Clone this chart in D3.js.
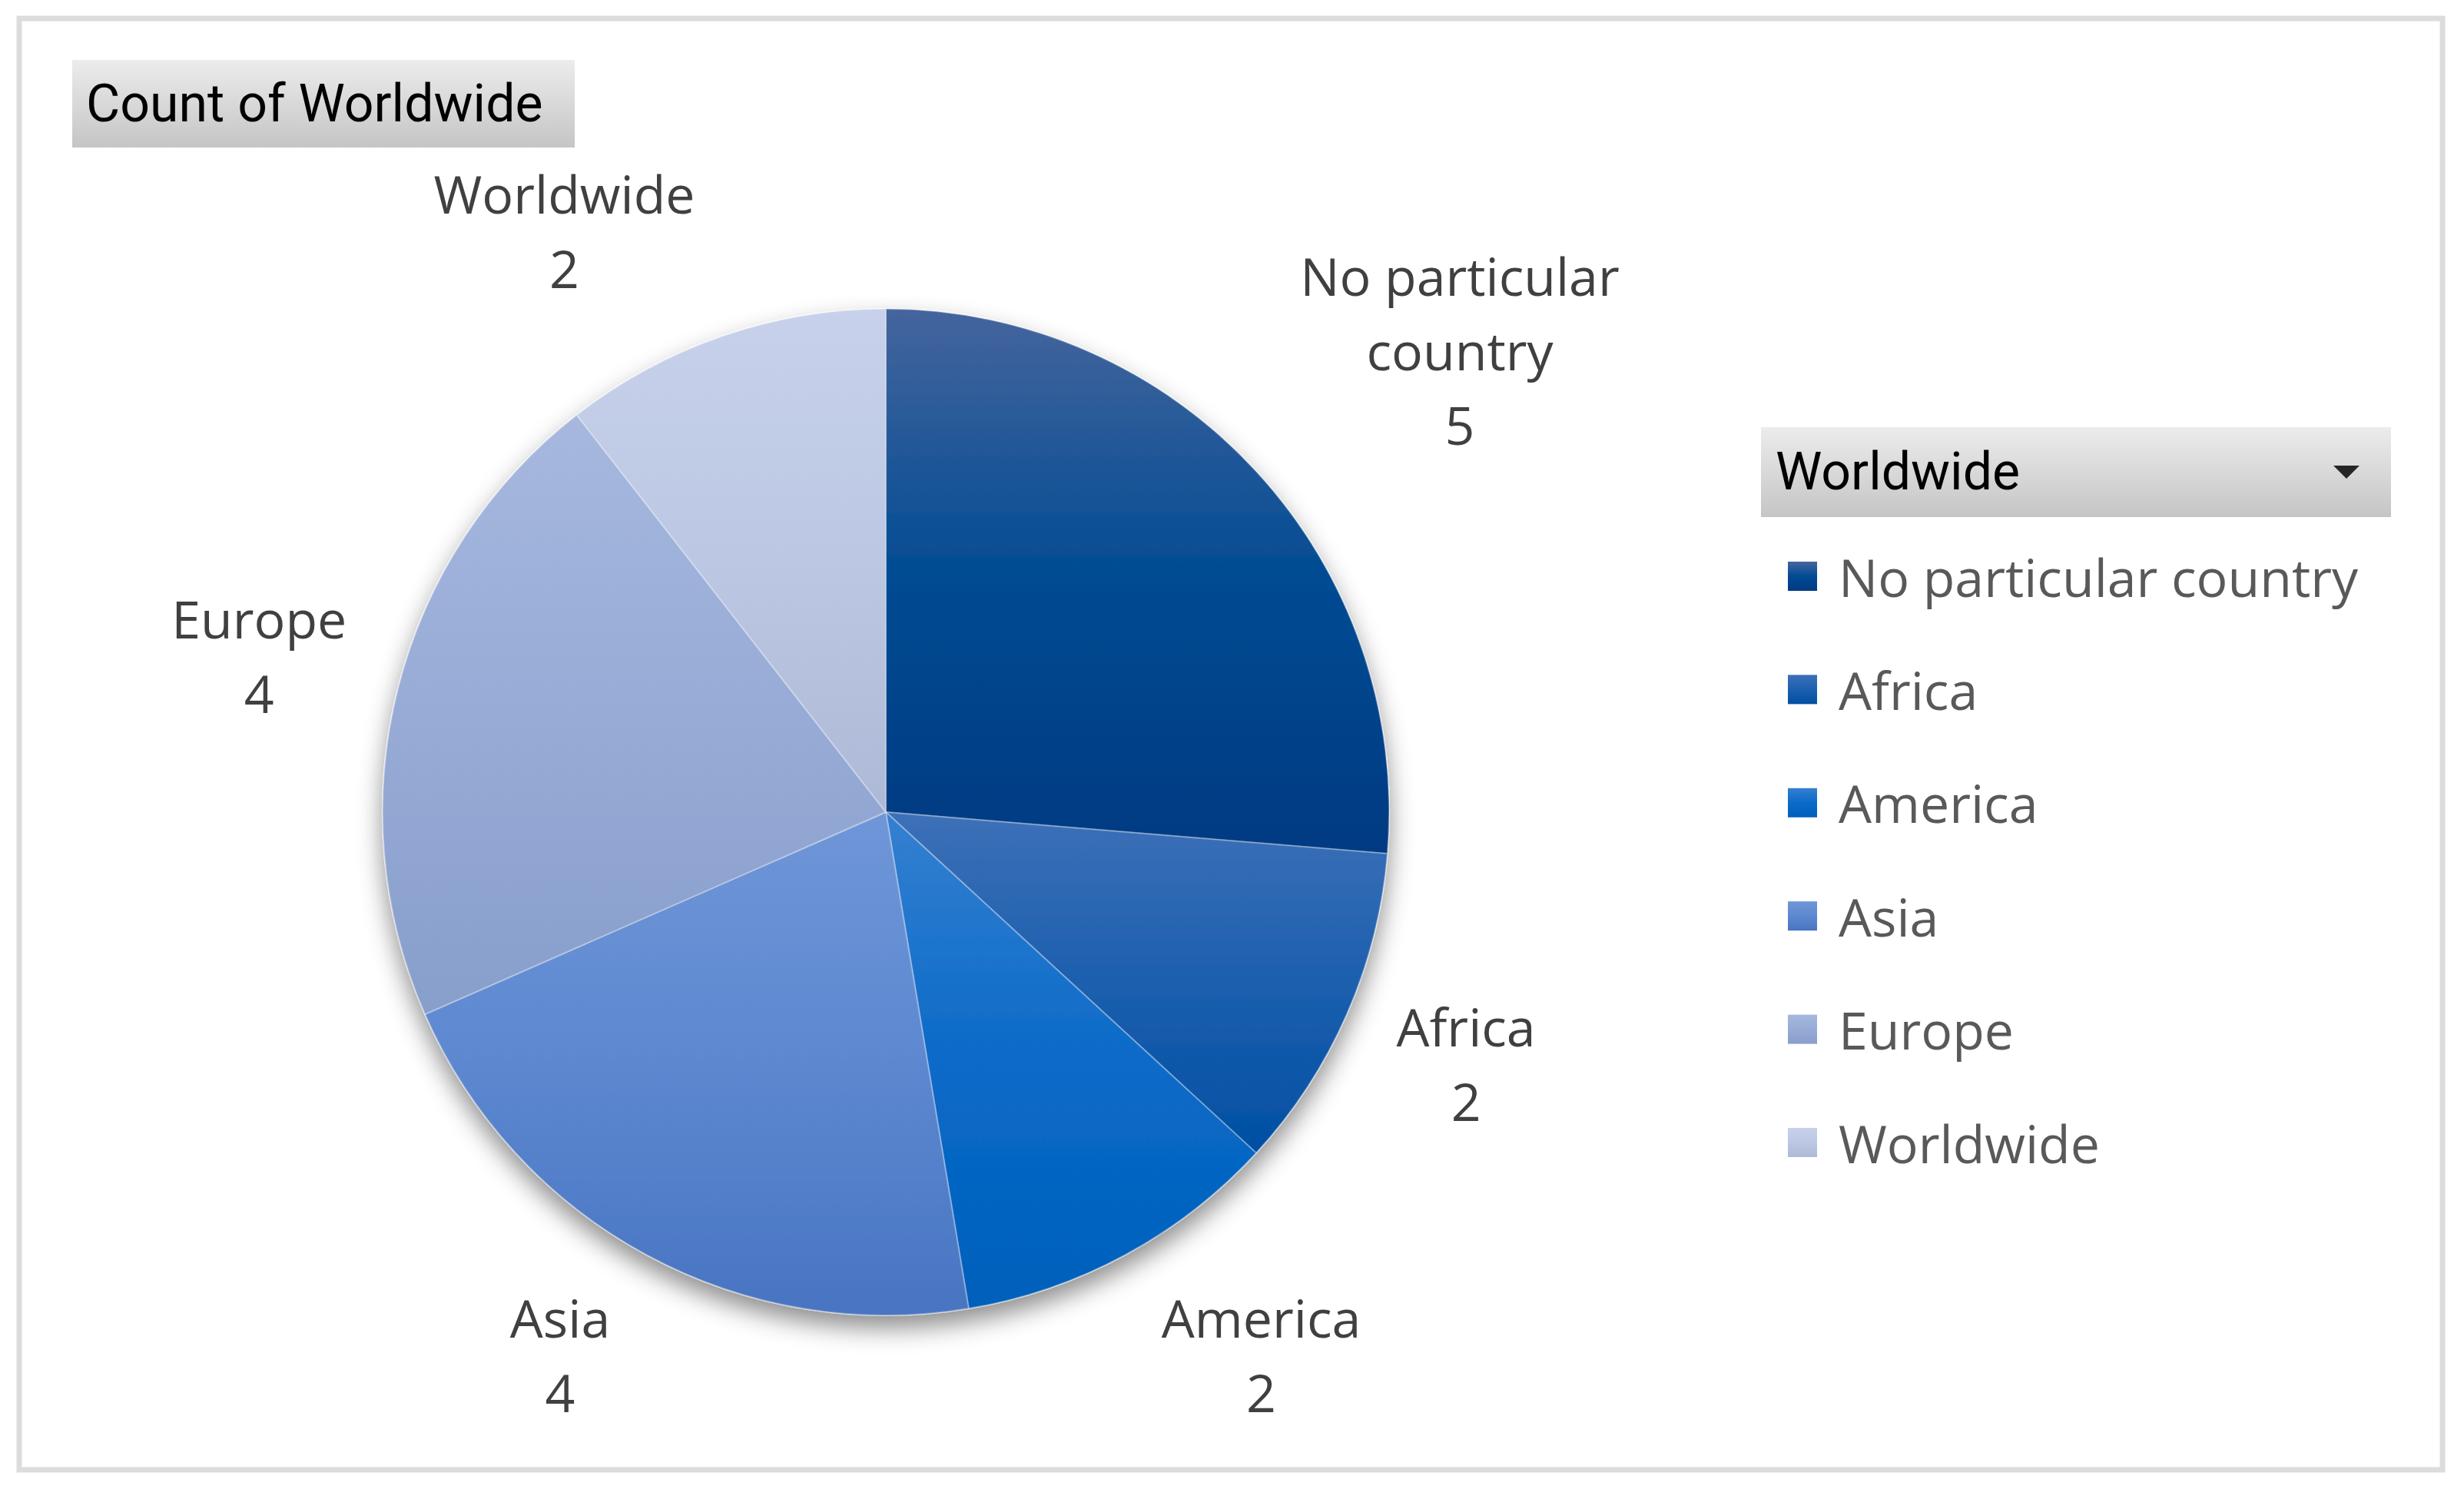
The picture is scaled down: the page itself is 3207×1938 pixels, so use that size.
<!DOCTYPE html>
<html lang="en">
<head>
    <meta charset="utf-8"/>
    <style>
        body {
            margin: 0;
            background: #fff;
        }
        svg {
            display: block;
        }
        text.label {
            font-family: "Open Sans", "Noto Sans", sans-serif;
            font-size: 68px;
            fill: #404040;
        }
        text.legend {
            font-family: "Open Sans", "Noto Sans", sans-serif;
            font-size: 68px;
            fill: #595959;
        }
        text.button {
            font-family: Roboto, "Liberation Sans", sans-serif;
            font-size: 68px;
            fill: #000;
        }
        path.slice {
            stroke: #fff;
            stroke-opacity: 0.3;
            stroke-width: 2px;
        }
    </style>
    <script src="https://cdnjs.cloudflare.com/ajax/libs/d3/7.8.5/d3.min.js"></script>
</head>
<body>
<svg id="chart" width="3207" height="1938"></svg>
<script>
    // data
    var categories = ['No particular country', 'Africa', 'America', 'Asia', 'Europe', 'Worldwide'];
    var counts = [5, 2, 2, 4, 4, 2];
    var title = 'Count of Worldwide';
    var fieldName = 'Worldwide';

    // excel "blue" monochrome palette, top / mid / bottom of each slice gradient
    var topColors = ['#45659d', '#3d70b8', '#3580d0', '#6f96d8', '#a6b8de', '#c7d1eb'];
    var midColors = ['#004b93', '#1c5fae', '#0a6ac8', '#5d88d0', '#97abd6', '#bcc7e3'];
    var botColors = ['#003a82', '#004fa3', '#0060bb', '#4874c2', '#889ecb', '#adb9d6'];

    var cx = 1153, cy = 1057, r = 655;
    var lineH = 97;

    var svg = d3.select('#chart');
    var defs = svg.append('defs');

    function vGrad(id, stops) {
        var g = defs.append('linearGradient')
            .attr('id', id)
            .attr('x1', 0).attr('y1', 0).attr('x2', 0).attr('y2', 1);
        g.selectAll('stop').data(stops).enter().append('stop')
            .attr('offset', function(d) { return d[0]; })
            .attr('stop-color', function(d) { return d[1]; });
    }

    categories.forEach(function(c, i) {
        vGrad('slice' + i, [[0, topColors[i]], [0.5, midColors[i]], [1, botColors[i]]]);
    });
    vGrad('btn', [[0, '#ececec'], [1, '#c5c5c5']]);

    var shadow = defs.append('filter')
        .attr('id', 'pieShadow')
        .attr('x', '-20%').attr('y', '-20%')
        .attr('width', '140%').attr('height', '150%');
    shadow.append('feDropShadow')
        .attr('dx', 0).attr('dy', 16)
        .attr('stdDeviation', 16)
        .attr('flood-color', '#000')
        .attr('flood-opacity', 0.45);

    // chart area frame
    svg.append('rect')
        .attr('x', 25).attr('y', 24)
        .attr('width', 3154).attr('height', 1889)
        .attr('fill', '#fff')
        .attr('stroke', '#dcdcdc')
        .attr('stroke-width', 7);

    // "Count of Worldwide" field button
    svg.append('rect')
        .attr('x', 94).attr('y', 78)
        .attr('width', 654).attr('height', 114)
        .attr('fill', 'url(#btn)');
    svg.append('text')
        .attr('class', 'button')
        .attr('x', 112).attr('y', 135)
        .attr('dominant-baseline', 'central')
        .text(title);

    // pie
    var pie = d3.pie().sort(null).value(function(d) { return d; });
    var arc = d3.arc().innerRadius(0).outerRadius(r);
    var arcs = pie(counts);

    var g = svg.append('g')
        .attr('transform', 'translate(' + cx + ',' + cy + ')');

    g.append('g')
        .attr('filter', 'url(#pieShadow)')
        .selectAll('path')
        .data(arcs)
        .enter().append('path')
        .attr('class', 'slice')
        .attr('d', arc)
        .attr('fill', function(d, i) { return 'url(#slice' + i + ')'; });

    // data labels, placed just outside the rim like excel's best fit
    function wrap(s) {
        var words = s.split(' '), lines = [], cur = '';
        words.forEach(function(w) {
            if (cur && (cur + ' ' + w).length > 13) { lines.push(cur); cur = w; }
            else cur = cur ? cur + ' ' + w : w;
        });
        lines.push(cur);
        return lines;
    }
    function clamp(v) { return Math.max(-1, Math.min(1, v)); }

    arcs.forEach(function(d, i) {
        var lines = wrap(categories[i]).concat([String(counts[i])]);
        var t = g.append('text')
            .attr('class', 'label')
            .attr('text-anchor', 'middle');
        t.selectAll('tspan').data(lines).enter().append('tspan')
            .attr('x', 0)
            .attr('dy', function(l, j) { return j ? lineH : 0; })
            .text(function(l) { return l; });
        var w = d3.max(t.selectAll('tspan').nodes(), function(n) { return n.getComputedTextLength(); });
        var h = lines.length * lineH;
        var a = (d.startAngle + d.endAngle) / 2;
        var sx = Math.sin(a), sy = -Math.cos(a);
        var rr = r + 40;
        var x = rr * sx + clamp(sx * 3) * (w / 2 + 28);
        var y = rr * sy + clamp(sy * 1.3) * h / 2;
        // first baseline so that the block is centred on (x, y)
        var y0 = y - h / 2 + lineH * 0.5 + 24;
        t.attr('transform', 'translate(' + x + ',' + y0 + ')');
    });

    // legend
    var lx = 2292, ly = 556;
    svg.append('rect')
        .attr('x', lx).attr('y', ly)
        .attr('width', 820).attr('height', 117)
        .attr('fill', 'url(#btn)');
    svg.append('text')
        .attr('class', 'button')
        .attr('x', lx + 19).attr('y', ly + 58)
        .attr('dominant-baseline', 'central')
        .text(fieldName);
    svg.append('path')
        .attr('d', 'M' + (lx + 745) + ',' + (ly + 50) + 'h34l-17,17z')
        .attr('fill', '#262626');

    var ys = d3.scalePoint()
        .domain(categories)
        .range([750, 1487]);

    var items = svg.append('g').selectAll('g')
        .data(categories)
        .enter().append('g')
        .attr('transform', function(c) { return 'translate(2327,' + ys(c) + ')'; });
    items.append('rect')
        .attr('x', 0).attr('y', -19)
        .attr('width', 38).attr('height', 38)
        .attr('fill', function(c, i) { return 'url(#slice' + i + ')'; });
    items.append('text')
        .attr('class', 'legend')
        .attr('x', 66).attr('y', 0)
        .attr('dominant-baseline', 'central')
        .text(function(c) { return c; });
</script>
</body>
</html>
